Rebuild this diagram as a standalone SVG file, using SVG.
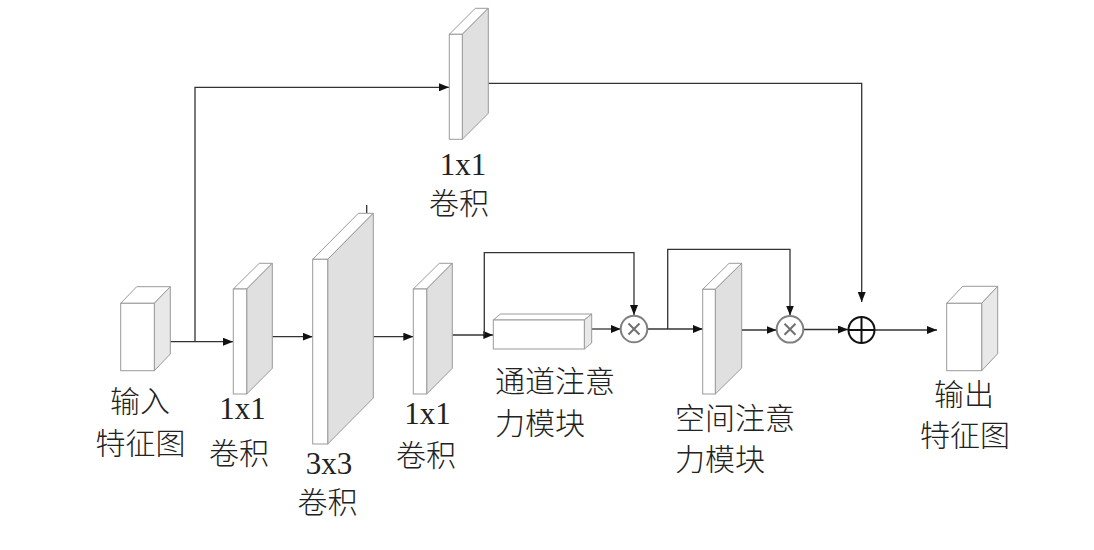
<svg xmlns="http://www.w3.org/2000/svg" width="1094" height="550" viewBox="0 0 1094 550">
<style>
.front{fill:#ffffff;stroke:#9a9a9a;stroke-width:1}
.top{fill:#ffffff;stroke:#9a9a9a;stroke-width:1}
.side{fill:#e0e0e0;stroke:#9a9a9a;stroke-width:1}
.lbl{font-family:"Liberation Serif","Noto Sans CJK SC",serif;font-size:31px;fill:#222}
.cn{font-family:"Noto Sans CJK SC","Liberation Serif",sans-serif;font-size:30px;fill:#222;font-weight:300}
.wire{fill:none;stroke:#333;stroke-width:1.3}
</style>
<defs>
<marker id="arr" viewBox="0 0 10 8" refX="10" refY="4" markerWidth="10" markerHeight="8" markerUnits="userSpaceOnUse" orient="auto">
<path d="M0,0 L10,4 L0,8 Z" fill="#111"/>
</marker>
</defs>
<rect width="1094" height="550" fill="#ffffff"/>

<g id="connectors">
<path class="wire" d="M154.3 341.7 H233" marker-end="url(#arr)"/>
<path class="wire" d="M195 341.7 V87.3 H449" marker-end="url(#arr)"/>
<path class="wire" d="M488.3 83.3 H861.7 V302" marker-end="url(#arr)"/>
<path class="wire" d="M272.3 336.7 H312.7" marker-end="url(#arr)"/>
<path class="wire" d="M373.3 336.7 H413.3" marker-end="url(#arr)"/>
<path class="wire" d="M452.3 335 H493.3" marker-end="url(#arr)"/>
<path class="wire" d="M484.3 335 V252.7 H634 V315" marker-end="url(#arr)"/>
<path class="wire" d="M591.7 329 H620.7" marker-end="url(#arr)"/>
<path class="wire" d="M647.3 329 H702.7" marker-end="url(#arr)"/>
<path class="wire" d="M667.7 329 V249.3 H790 V315.5" marker-end="url(#arr)"/>
<path class="wire" d="M741.7 330 H776.5" marker-end="url(#arr)"/>
<path class="wire" d="M803.5 329.5 H848" marker-end="url(#arr)"/>
<path class="wire" d="M875 330 H937" marker-end="url(#arr)"/>
<path class="wire" d="M366.7 205 V213.3"/>
</g>

<g id="input">
<polygon class="top" points="120.7,303.3 136.7,286.7 170.3,286.7 154.3,303.3"/>
<polygon class="side" points="154.3,303.3 170.3,286.7 170.3,354 154.3,370.7" style="fill:#e8e8e8"/>
<rect class="front" x="120.7" y="303.3" width="33.6" height="67.4"/>
<text class="cn" x="140" y="412" text-anchor="middle">输入</text>
<text class="cn" x="140.5" y="454" text-anchor="middle">特征图</text>
</g>

<g id="conv1">
<polygon class="top" points="233.3,289 259.3,263.3 272.3,263.3 246.7,289"/>
<polygon class="side" points="246.7,289 272.3,263.3 272.3,368.3 246.7,394"/>
<rect class="front" x="233.3" y="289" width="13.4" height="105"/>
<text class="lbl" x="242.5" y="419" text-anchor="middle">1x1</text>
<text class="cn" x="239" y="464" text-anchor="middle">卷积</text>
</g>

<g id="conv3x3">
<polygon class="top" points="312.7,259.3 358.3,213.3 373.3,213.3 327.7,259.3"/>
<polygon class="side" points="327.7,259.3 373.3,213.3 373.3,398 327.7,444"/>
<rect class="front" x="312.7" y="259.3" width="15" height="184.7"/>
<text class="lbl" x="329" y="474" text-anchor="middle">3x3</text>
<text class="cn" x="327.5" y="513" text-anchor="middle">卷积</text>
</g>

<g id="conv2">
<polygon class="top" points="413.3,289 439.3,263.3 452.3,263.3 426.7,289"/>
<polygon class="side" points="426.7,289 452.3,263.3 452.3,368.3 426.7,394"/>
<rect class="front" x="413.3" y="289" width="13.4" height="105"/>
<text class="lbl" x="427.5" y="424" text-anchor="middle">1x1</text>
<text class="cn" x="426" y="466" text-anchor="middle">卷积</text>
</g>

<g id="conv-top">
<polygon class="top" points="449.3,34.3 475.3,8.3 488.3,8.3 462.3,34.3"/>
<polygon class="side" points="462.3,34.3 488.3,8.3 488.3,113.3 462.3,139.3"/>
<rect class="front" x="449.3" y="34.3" width="13" height="105"/>
<text class="lbl" x="463" y="175" text-anchor="middle">1x1</text>
<text class="cn" x="459" y="214" text-anchor="middle">卷积</text>
</g>

<g id="channel-attention">
<polygon class="top" points="493.3,320 500.3,314 591.7,314 584.3,320"/>
<polygon class="side" points="584.3,320 591.7,314 591.7,343 584.3,349" style="fill:#e8e8e8"/>
<rect class="front" x="493.3" y="320" width="91" height="29"/>
<text class="cn" x="495" y="392">通道注意</text>
<text class="cn" x="495" y="434">力模块</text>
</g>

<g id="mul1">
<circle cx="634" cy="329" r="13.3" fill="#fff" stroke="#808080" stroke-width="2"/>
<path d="M628.5 323.5 L639.5 334.5 M639.5 323.5 L628.5 334.5" stroke="#707070" stroke-width="2" fill="none"/>
</g>

<g id="spatial-attention">
<polygon class="top" points="702.7,289.3 729.1,263.3 741.7,263.3 715.3,289.3"/>
<polygon class="side" points="715.3,289.3 741.7,263.3 741.7,368 715.3,394"/>
<rect class="front" x="702.7" y="289.3" width="12.6" height="104.7"/>
<text class="cn" x="675" y="429">空间注意</text>
<text class="cn" x="675" y="470">力模块</text>
</g>

<g id="mul2">
<circle cx="790" cy="329.3" r="13.3" fill="#fff" stroke="#808080" stroke-width="2"/>
<path d="M784.5 323.8 L795.5 334.8 M795.5 323.8 L784.5 334.8" stroke="#707070" stroke-width="2" fill="none"/>
</g>

<g id="add">
<circle cx="861.5" cy="330" r="13" fill="#fff" stroke="#111" stroke-width="2"/>
<path d="M848.5 330 H874.5 M861.5 317 V343" stroke="#111" stroke-width="2" fill="none"/>
</g>

<g id="output">
<polygon class="top" points="946.7,303.3 962.7,286.3 997.7,286.3 981.7,303.3"/>
<polygon class="side" points="981.7,303.3 997.7,286.3 997.7,353.7 981.7,370.7" style="fill:#e8e8e8"/>
<rect class="front" x="946.7" y="303.3" width="35" height="67.4"/>
<text class="cn" x="964" y="405" text-anchor="middle">输出</text>
<text class="cn" x="965" y="446" text-anchor="middle">特征图</text>
</g>
</svg>
